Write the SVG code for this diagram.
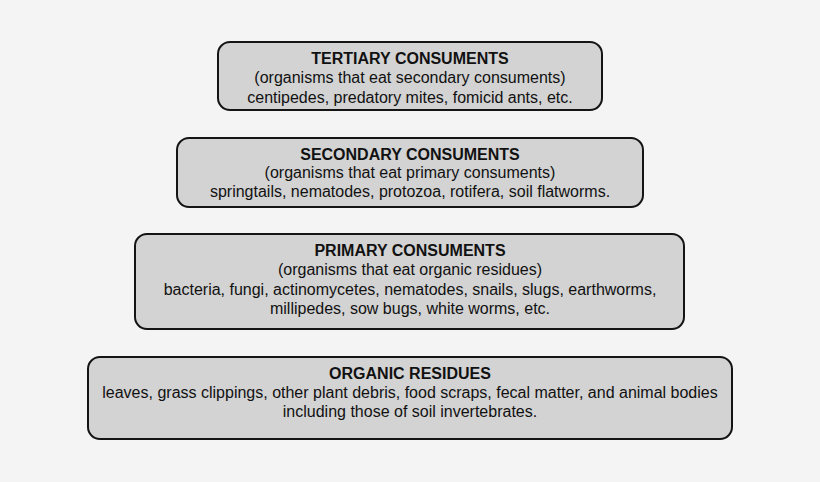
<svg xmlns="http://www.w3.org/2000/svg" width="820" height="482" viewBox="0 0 820 482">
<style>
.box{fill:#d3d3d3;stroke:#141414;stroke-width:2}
text{font-family:"Liberation Sans",Arial,sans-serif;font-size:16px;fill:#111;text-anchor:middle}
.t{font-weight:bold}
</style>
<rect x="0" y="0" width="820" height="482" fill="#f4f4f4"/>
<g id="tertiary">
<rect class="box" x="218" y="42" width="384" height="68" rx="12"/>
<text class="t" x="410" y="64">TERTIARY CONSUMENTS</text>
<text x="410" y="83">(organisms that eat secondary consuments)</text>
<text x="410" y="103">centipedes, predatory mites, fomicid ants, etc.</text>
</g>
<g id="secondary">
<rect class="box" x="177" y="138" width="466" height="69" rx="12"/>
<text class="t" x="410" y="160">SECONDARY CONSUMENTS</text>
<text x="410" y="178">(organisms that eat primary consuments)</text>
<text x="410" y="197">springtails, nematodes, protozoa, rotifera, soil flatworms.</text>
</g>
<g id="primary">
<rect class="box" x="135" y="234" width="549" height="95" rx="12"/>
<text class="t" x="410" y="256">PRIMARY CONSUMENTS</text>
<text x="410" y="275">(organisms that eat organic residues)</text>
<text x="410" y="295">bacteria, fungi, actinomycetes, nematodes, snails, slugs, earthworms,</text>
<text x="410" y="314">millipedes, sow bugs, white worms, etc.</text>
</g>
<g id="residues">
<rect class="box" x="88" y="357" width="644" height="82" rx="12"/>
<text class="t" x="410" y="379">ORGANIC RESIDUES</text>
<text x="410" y="398">leaves, grass clippings, other plant debris, food scraps, fecal matter, and animal bodies</text>
<text x="410" y="417">including those of soil invertebrates.</text>
</g>
<g id="connectors"></g>
</svg>
